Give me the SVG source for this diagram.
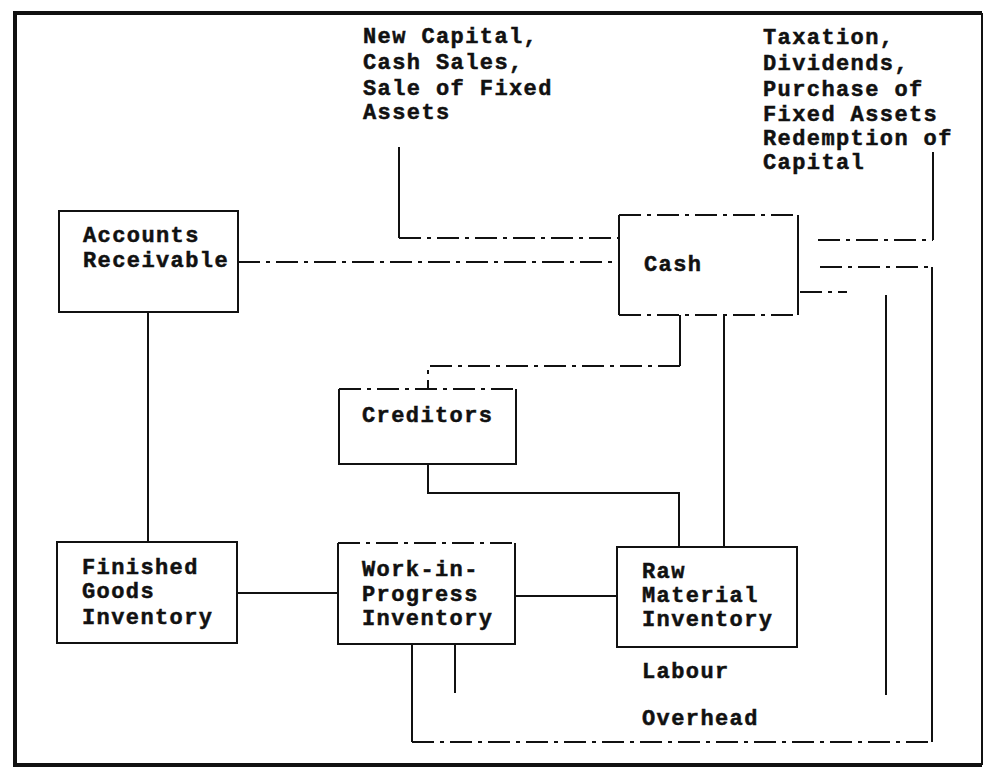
<svg xmlns="http://www.w3.org/2000/svg" width="986" height="771" viewBox="0 0 986 771">
<style>
text{font-family:"Liberation Mono","Courier New",monospace;font-weight:bold;font-size:22px;letter-spacing:1.4px;fill:#111;stroke:#111;stroke-width:0.5}
.box{fill:none;stroke:#111;stroke-width:2}
.ln{fill:none;stroke:#111;stroke-width:2}
.br{fill:none;stroke:#111;stroke-width:2;stroke-dasharray:22 6 4 6}
.frame{fill:none;stroke:#111;stroke-width:4}
</style>
<rect x="0" y="0" width="986" height="771" fill="#fff"/>
<g id="frame">
<path class="frame" d="M982,13 H15 V765 H982"/>
<path class="ln" d="M982,13 V765" stroke-width="1.5"/>
</g>
<g id="connectors">
<path class="ln" d="M399,147 V238"/>
<path class="br" d="M399,238 H619"/>
<path class="br" d="M238,262 H619"/>
<path class="br" d="M818,240 H933"/>
<path class="ln" d="M933,240 V152"/>
<path class="br" d="M820,267 H932"/>
<path class="ln" d="M932,267 V742"/>
<path class="br" d="M412,742 H932"/>
<path class="ln" d="M412,644 V742"/>
<path class="ln" d="M455,644 V693"/>
<path class="br" d="M800,292 H847"/>
<path class="ln" d="M886,295 V695"/>
<path class="ln" d="M148,312 V542"/>
<path class="ln" d="M237,593 H338"/>
<path class="ln" d="M515,596 H617"/>
<path class="ln" d="M680,315 V366"/>
<path class="br" d="M680,366 H428 V389"/>
<path class="ln" d="M428,464 V493 H679 V547"/>
<path class="ln" d="M724,315 V547"/>
</g>
<g id="inflows">
<text x="363" y="43">New Capital,</text>
<text x="363" y="69">Cash Sales,</text>
<text x="363" y="95">Sale of Fixed</text>
<text x="363" y="119">Assets</text>
</g>
<g id="outflows">
<text x="763" y="44">Taxation,</text>
<text x="763" y="70">Dividends,</text>
<text x="763" y="96">Purchase of</text>
<text x="763" y="121">Fixed Assets</text>
<text x="763" y="145">Redemption of</text>
<text x="763" y="169">Capital</text>
</g>
<g id="accounts-receivable">
<rect class="box" x="59" y="211" width="179" height="101"/>
<text x="83" y="242">Accounts</text>
<text x="83" y="267">Receivable</text>
</g>
<g id="cash">
<path class="ln" d="M619,215 V315 M798,215 V315"/>
<path class="br" d="M619,215 H798 M619,315 H798"/>
<text x="644" y="271">Cash</text>
</g>
<g id="creditors">
<path class="ln" d="M339,389 V464 H516 V389"/>
<path class="br" d="M339,389 H516"/>
<text x="362" y="422">Creditors</text>
</g>
<g id="finished-goods">
<rect class="box" x="57" y="542" width="180" height="101"/>
<text x="82" y="574">Finished</text>
<text x="82" y="598">Goods</text>
<text x="82" y="624">Inventory</text>
</g>
<g id="work-in-progress">
<path class="ln" d="M338,543 V644 H515 V543"/>
<path class="br" d="M338,543 H515"/>
<text x="362" y="576">Work-in-</text>
<text x="362" y="601">Progress</text>
<text x="362" y="625">Inventory</text>
</g>
<g id="raw-material">
<rect class="box" x="617" y="547" width="180" height="100"/>
<text x="642" y="578">Raw</text>
<text x="642" y="602">Material</text>
<text x="642" y="626">Inventory</text>
</g>
<g id="labels">
<text x="642" y="678">Labour</text>
<text x="642" y="725">Overhead</text>
</g>
</svg>
